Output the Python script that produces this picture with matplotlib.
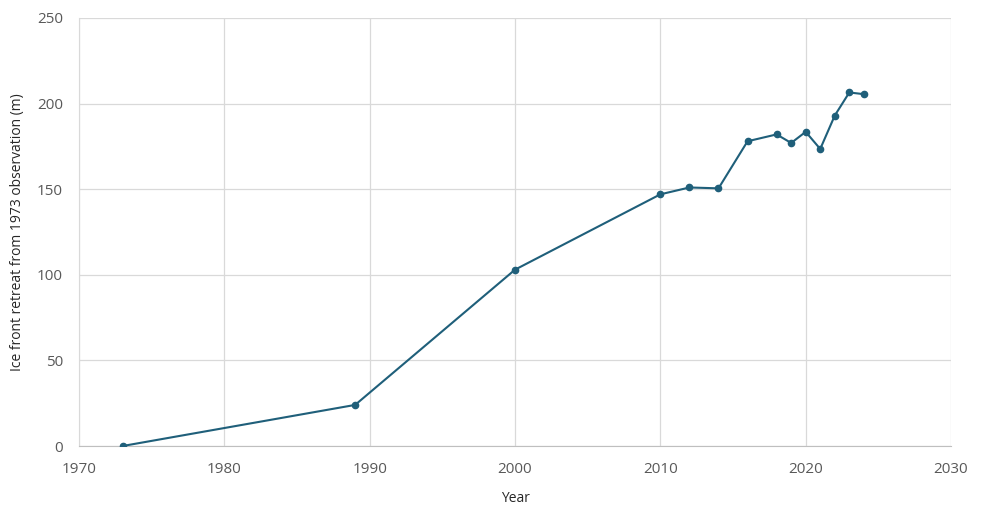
import matplotlib.pyplot as plt

years = [1973, 1989, 2000, 2010, 2012, 2014, 2016, 2018, 2019, 2020, 2021, 2022, 2023, 2024]
retreat = [0, 24, 103, 147, 151, 150.5, 178, 182, 177, 183.5, 173.5, 193, 206.5, 205.5]

plt.rcParams['font.family'] = ['Open Sans', 'DejaVu Sans']

fig = plt.figure(figsize=(9.84, 5.11), dpi=100)
ax = fig.add_axes([0.0803, 0.1272, 0.8862, 0.8376])

ax.plot(years, retreat, color="#1f5f7a", linewidth=1.5, marker="o", markersize=4.5, zorder=3)

ax.set_xlim(1970, 2030)
ax.set_ylim(0, 250)
ax.set_xticks(range(1970, 2031, 10))
ax.set_yticks(range(0, 251, 50))
ax.grid(True, color="#d9d9d9", linewidth=0.9)
ax.set_axisbelow(True)

for side in ["top", "right"]:
    ax.spines[side].set_visible(False)
ax.spines["left"].set_color("#d9d9d9")
ax.spines["bottom"].set_color("#bfbfbf")
ax.tick_params(length=0, labelsize=11, labelcolor="#595959", pad=11.5)

ax.set_xlabel("Year", fontsize=10, color="#262626", labelpad=10)
ax.set_ylabel("Ice front retreat from 1973 observation (m)", fontsize=10, color="#262626", labelpad=9)

fig.savefig("out.png", dpi=100)
